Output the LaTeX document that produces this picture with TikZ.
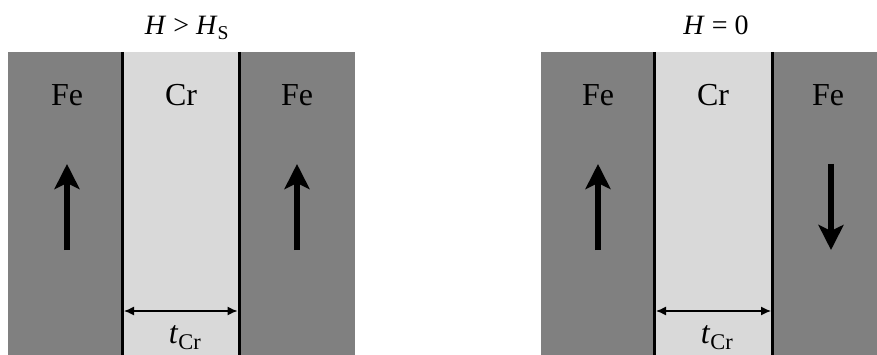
\documentclass[tikz,border=0pt]{standalone}
\usepackage{fontspec}
\setmainfont{Liberation Serif}
\usetikzlibrary{arrows.meta}
\definecolor{fegray}{HTML}{808080}
\definecolor{crgray}{HTML}{D9D9D9}
\begin{document}
\begin{tikzpicture}[x=1pt,y=-1pt,
  layer/.style={anchor=north west, inner sep=0pt, outer sep=0pt, minimum height=304pt},
  fe/.style={layer, fill=fegray},
  cr/.style={layer, fill=crgray},
  sepline/.style={line width=3pt, black},
  lbl/.style={anchor=base, inner sep=0pt, font=\fontsize{32}{38}\selectfont},
  ttl/.style={anchor=base, inner sep=0pt, font=\fontsize{28}{34}\selectfont},
  magarrow/.style={line width=5.5pt, -{Stealth[width=25pt,length=25pt,inset=6pt]}},
  dimarrow/.style={line width=1.3pt, {Latex[width=9pt,length=10pt]}-{Latex[width=9pt,length=10pt]}}]
\useasboundingbox (0,0) rectangle (877,355);
% left panel
\node[fe, minimum width=114.5pt] (L1) at (8,52) {};
\node[cr, minimum width=116.5pt] (C1) at (122.5,52) {};
\node[fe, minimum width=116pt] (L2) at (239,52) {};
\draw[sepline] (C1.north west) -- (C1.south west);
\draw[sepline] (C1.north east) -- (C1.south east);
\node[ttl] (T1) at (187,35) {\textit{H} > \textit{H}\textsubscript{S}};
\node[lbl] (fe1) at (67,106) {Fe};
\node[lbl] (cr1) at (181,106) {Cr};
\node[lbl] (fe2) at (297,106) {Fe};
\coordinate (a1s) at (67,250); \coordinate (a1e) at (67,164);
\coordinate (a2s) at (297,250); \coordinate (a2e) at (297,164);
\draw[magarrow] (a1s) -- (a1e);
\draw[magarrow] (a2s) -- (a2e);
\coordinate (d1s) at (124,311); \coordinate (d1e) at (237.5,311);
\draw[dimarrow] (d1s) -- (d1e);
\node[lbl] (t1) at (185,343) {\textit{t}\textsubscript{Cr}};
% right panel
\node[fe, minimum width=113.5pt] (R1) at (541,52) {};
\node[cr, minimum width=118pt] (C2) at (654.5,52) {};
\node[fe, minimum width=105pt] (R2) at (772.5,52) {};
\draw[sepline] (C2.north west) -- (C2.south west);
\draw[sepline] (C2.north east) -- (C2.south east);
\node[ttl] (T2) at (716,35) {\textit{H} = 0};
\node[lbl] (fe3) at (598,106) {Fe};
\node[lbl] (cr2) at (713,106) {Cr};
\node[lbl] (fe4) at (828,106) {Fe};
\coordinate (a3s) at (598,250); \coordinate (a3e) at (598,164);
\coordinate (a4s) at (831,164); \coordinate (a4e) at (831,250);
\draw[magarrow] (a3s) -- (a3e);
\draw[magarrow] (a4s) -- (a4e);
\coordinate (d2s) at (656,311); \coordinate (d2e) at (771,311);
\draw[dimarrow] (d2s) -- (d2e);
\node[lbl] (t2) at (717,343) {\textit{t}\textsubscript{Cr}};
\end{tikzpicture}
\end{document}
